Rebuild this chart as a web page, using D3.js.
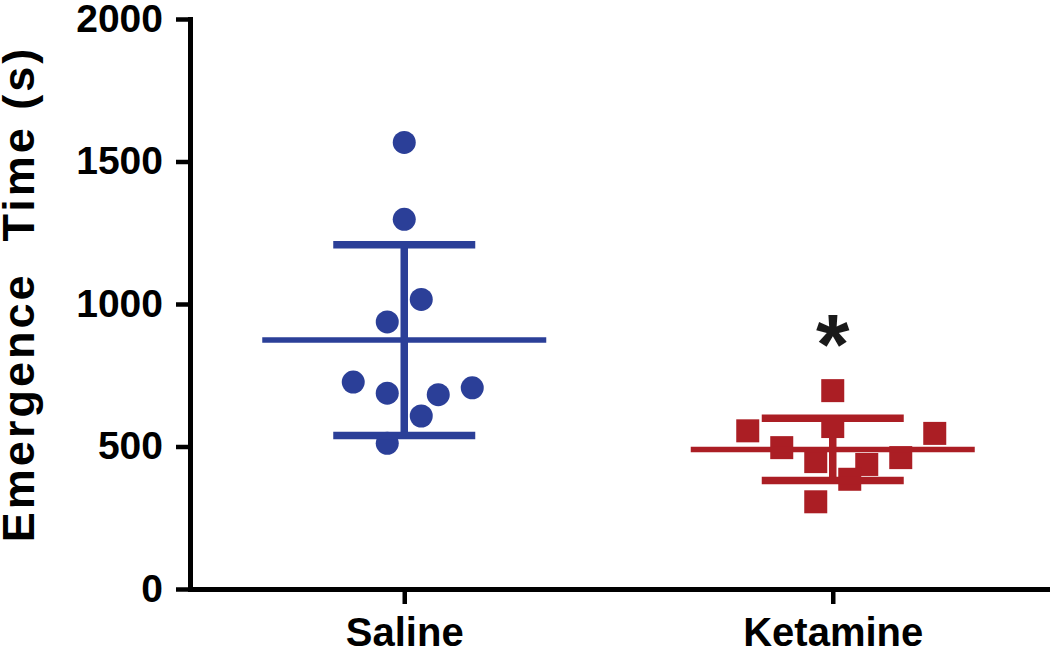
<!DOCTYPE html>
<html>
<head>
<meta charset="utf-8">
<script src="https://cdn.jsdelivr.net/npm/d3@7"></script>
<style>
  body { margin: 0; background: #fff; }
  svg { display: block; }
  text { font-family: "Liberation Sans", Arial, sans-serif; font-weight: bold; }
</style>
</head>
<body>
<div id="chart"></div>
<script>
// Groups and raw values (s)
const groups = ["Saline", "Ketamine"];
const salineValues = [1567, 1297, 1016, 937, 726, 687, 682, 706, 607, 511];
const ketamineValues = [696, 555, 570, 546, 496, 447, 437, 461, 385, 306];
// horizontal column of each point (scatter spread, in marker half-widths)
const salineColumns = [0, 0, 1, -1, -3, -1, 2, 4, 1, -1];
const ketamineColumns = [0, -5, 0, 6, -3, -1, 2, 4, 1, -1];
const yTicks = [0, 500, 1000, 1500, 2000];
const significant = ["Ketamine"];

const colors = { Saline: "#2b3f98", Ketamine: "#ab1e24" };

const width = 1050;
const height = 651;
const margin = { top: 19, right: 3, bottom: 62, left: 190 };

const svg = d3.select("#chart")
  .append("svg")
  .attr("width", width)
  .attr("height", height);

// Scales
const x = d3.scalePoint()
  .domain(groups)
  .range([margin.left, width - margin.right])
  .padding(0.5);

const y = d3.scaleLinear()
  .domain([0, 2000])
  .range([height - margin.bottom, margin.top]);

const colStep = 17;   // px per column
const meanHalf = 142; // mean line half width
const capHalf = 71;   // SD cap half width

const series = [
  { name: "Saline", values: salineValues, cols: salineColumns, shape: "circle" },
  { name: "Ketamine", values: ketamineValues, cols: ketamineColumns, shape: "square" }
];

series.forEach(s => {
  const cx = x(s.name);
  const g = svg.append("g").attr("fill", colors[s.name]).attr("stroke", colors[s.name]);
  const pts = s.values.map((v, i) => ({ v: v, c: s.cols[i] }));

  // Points
  if (s.shape === "circle") {
    g.selectAll("circle")
      .data(pts)
      .enter()
      .append("circle")
      .attr("stroke", "none")
      .attr("cx", d => cx + d.c * colStep)
      .attr("cy", d => y(d.v))
      .attr("r", 11.5);
  } else {
    g.selectAll("rect")
      .data(pts)
      .enter()
      .append("rect")
      .attr("stroke", "none")
      .attr("x", d => cx + d.c * colStep - 11.5)
      .attr("y", d => y(d.v) - 11.5)
      .attr("width", 23)
      .attr("height", 23);
  }

  // Mean and SD
  const m = d3.mean(s.values);
  const sd = d3.deviation(s.values);

  g.append("line")
    .attr("x1", cx - meanHalf).attr("x2", cx + meanHalf)
    .attr("y1", y(m)).attr("y2", y(m))
    .attr("stroke-width", 5.5);

  g.append("line")
    .attr("x1", cx).attr("x2", cx)
    .attr("y1", y(m + sd)).attr("y2", y(m - sd))
    .attr("stroke-width", 7.5);

  [m + sd, m - sd].forEach(v => {
    g.append("line")
      .attr("x1", cx - capHalf).attr("x2", cx + capHalf)
      .attr("y1", y(v)).attr("y2", y(v))
      .attr("stroke-width", 7.5);
  });
});

// Significance mark
svg.selectAll(".star")
  .data(significant)
  .enter()
  .append("text")
  .attr("class", "star")
  .attr("x", d => x(d))
  .attr("y", y(755))
  .attr("text-anchor", "middle")
  .attr("font-size", 86)
  .attr("fill", "#1a1a1a")
  .text("*");

// Y axis
const yAxis = svg.append("g")
  .attr("transform", `translate(${margin.left},0)`)
  .call(d3.axisLeft(y).tickValues(yTicks).tickFormat(d3.format("d"))
    .tickSize(14).tickSizeOuter(0).tickPadding(13));

// X axis
const xAxis = svg.append("g")
  .attr("transform", `translate(0,${height - margin.bottom})`)
  .call(d3.axisBottom(x).tickSize(15).tickSizeOuter(0).tickPadding(14));

[yAxis, xAxis].forEach(a => {
  a.select(".domain").attr("stroke-width", 5).attr("stroke-linecap", "square");
  a.selectAll(".tick line").attr("stroke-width", 4.5);
  a.selectAll("text").attr("fill", "#000").attr("font-family", null);
});
yAxis.selectAll("text").attr("font-size", 39);
xAxis.selectAll("text").attr("font-size", 40);

// Y axis title
svg.append("text")
  .attr("transform", `translate(34,${(535 + 53) / 2}) rotate(-90)`)
  .attr("text-anchor", "middle")
  .attr("font-size", 45)
  .attr("letter-spacing", 3)
  .attr("fill", "#000")
  .style("white-space", "pre")
  .text("Emergence  Time (s)");
</script>
</body>
</html>
